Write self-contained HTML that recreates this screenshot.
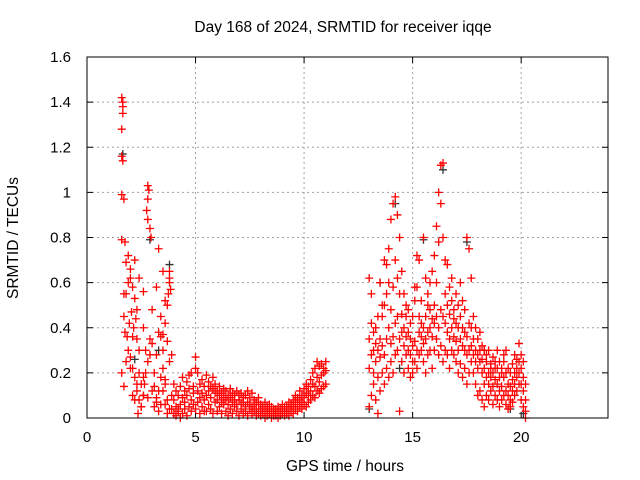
<!DOCTYPE html>
<html><head><meta charset="utf-8"><style>
html,body{margin:0;padding:0;background:#fff;}
svg{display:block;font-family:"Liberation Sans",sans-serif;}
</style></head><body>
<svg id="chart" width="640" height="480" viewBox="0 0 640 480">
<rect x="0" y="0" width="640" height="480" fill="#fff"/>
<text x="343" y="32" font-size="15.5" text-anchor="middle">Day 168 of 2024, SRMTID for receiver iqqe</text>
<text x="345" y="471" font-size="15.5" text-anchor="middle">GPS time / hours</text>
<text x="0" y="0" font-size="15.5" text-anchor="middle" transform="translate(18,238) rotate(-90)">SRMTID / TECUs</text>
<g id="grid"></g>
<g id="ticks"></g>
<g id="black-series"></g>
<g id="red-series"></g>
<rect x="87" y="57" width="521" height="361" fill="none" stroke="#000" stroke-width="1"/>
</svg>
<script>
const xTicks = [0, 5, 10, 15, 20];
const yTicks = [0, 0.2, 0.4, 0.6, 0.8, 1, 1.2, 1.4, 1.6];
const yTickLabels = ["0", "0.2", "0.4", "0.6", "0.8", "1", "1.2", "1.4", "1.6"];
const earlyPoints = [[1.6,1.42],[1.65,1.40],[1.65,1.38],[1.65,1.35],[1.6,1.28],[1.6,1.16],[1.65,1.14],[1.6,0.99],[1.7,0.97],[1.6,0.79],[1.75,0.78],[1.8,0.69],[1.9,0.72],[2.0,0.66],[1.7,0.55],[1.8,0.55],[1.9,0.60],[2.0,0.62],[2.1,0.58],[2.2,0.53],[1.7,0.45],[1.75,0.38],[1.85,0.36],[1.95,0.42],[2.05,0.47],[2.15,0.40],[2.25,0.44],[2.3,0.35],[1.6,0.2],[1.7,0.14],[1.8,0.25],[1.9,0.3],[2.0,0.27],[2.1,0.22],[2.2,0.18],[2.3,0.12],[2.4,0.2],[2.5,0.15],[2.6,0.1],[2.7,0.3],[2.8,0.25],[2.9,0.35],[3.0,0.33],[3.1,0.2],[3.2,0.28],[3.3,0.12],[3.4,0.18],[3.5,0.22],[3.6,0.15],[3.7,0.08],[3.8,0.25],[3.9,0.28],[2.8,1.03],[2.85,1.01],[2.8,0.97],[2.75,0.92],[2.8,0.88],[2.9,0.84],[2.95,0.80],[3.3,0.75],[3.5,0.65],[3.2,0.58],[3.0,0.48],[3.4,0.45],[3.6,0.52],[3.8,0.65],[3.8,0.62],[3.8,0.60],[3.85,0.57],[3.75,0.55],[3.7,0.5],[3.6,0.42],[3.5,0.37],[3.4,0.36],[2.5,0.05],[2.4,0.08],[2.35,0.02],[2.6,0.1],[2.65,0.15],[3.1,0.05],[3.2,0.09],[3.3,0.03],[3.6,0.06],[3.7,0.02],[3.9,0.1],[2.2,0.08],[2.4,0.3],[2.6,0.4],[2.7,0.2],[3.0,0.12],[3.3,0.38],[3.5,0.3],[3.7,0.34],[2.1,0.1],[2.3,0.15],[2.5,0.05],[2.9,0.28],[3.1,0.14],[3.4,0.06],[3.6,0.17],[3.9,0.04],[2.0,0.22],[2.6,0.18],[2.8,0.09],[3.2,0.07],[3.5,0.12],[3.8,0.04],[2.2,0.7],[2.4,0.62],[2.6,0.56],[2.3,0.48],[2.1,0.36]];
const midRows = [[4.0,.02,.08,.15],[4.1,.01,.05,.12],[4.2,.03,.1,.04],[4.3,0,.06,.14],[4.4,.02,.09,.18],[4.5,.04,.12,.07],[4.6,.01,.1,.16],[4.7,.05,.13,.19],[4.8,.03,.08,.2],[4.9,.06,.14,.11],[5.0,.04,.22,.27],[5.1,.07,.12,.2],[5.2,.02,.15,.09],[5.3,.05,.11,.17],[5.4,.08,.14,.03],[5.5,.03,.1,.19],[5.6,.06,.16,.12],[5.7,.04,.09,.14],[5.8,.02,.13,.18],[5.9,.07,.11,.15],[6.0,.03,.08,.12],[6.1,.05,.1,.14],[6.2,.02,.07,.11],[6.3,.06,.09,.13],[6.4,.03,.12,.08],[6.5,.01,.06,.1],[6.6,.04,.09,.13],[6.7,.02,.07,.11],[6.8,.05,.1,.08],[6.9,.03,.06,.12],[7.0,.01,.08,.1],[7.1,.04,.06,.11],[7.2,.02,.09,.07],[7.3,.03,.05,.1],[7.4,.01,.07,.12],[7.5,.04,.06,.09],[7.6,.02,.05,.11],[7.7,.03,.08,.06],[7.8,.01,.04,.07],[7.9,.02,.06,.09],[8.0,.01,.03,.06],[8.1,.02,.05,.04],[8.2,0,.03,.07],[8.3,.01,.04,.05],[8.4,.02,.03,.06],[8.5,0,.02,.05],[8.6,.01,.03,.04],[8.7,.02,.04,.01],[8.8,0,.03,.05],[8.9,.01,.02,.04],[9.0,.02,.04,.06],[9.1,.01,.03,.05],[9.2,.02,.05,.03],[9.3,.01,.04,.07],[9.4,.03,.06,.05],[9.5,.02,.05,.08],[9.6,.04,.07,.1],[9.7,.03,.06,.09],[9.8,.05,.08,.12],[9.9,.04,.1,.07],[10.0,.06,.09,.13],[10.1,.05,.11,.15],[10.2,.07,.1,.14],[10.3,.08,.12,.17],[10.4,.1,.15,.2],[10.5,.09,.14,.22],[10.6,.12,.18,.25],[10.7,.11,.16,.23],[10.8,.13,.19,.24],[10.9,.14,.2,.22],[11.0,.15,.21,.25]];
const lateRows = [[13.0,.05,.22,.35,.62],[13.1,.1,.28,.42,.55],[13.2,.15,.3,.38,.2],[13.3,.08,.25,.4,.33],[13.4,.02,.18,.3,.45],[13.5,.12,.27,.35,.6],[13.6,.2,.32,.45,.5],[13.7,.15,.28,.5,.7],[13.8,.22,.35,.55,.68],[13.9,.18,.4,.6,.75],[14.0,.25,.33,.48,.88],[14.1,.2,.36,.58,.95],[14.2,.28,.42,.7,.98],[14.3,.3,.45,.62,.9],[14.4,.03,.35,.55,.8],[14.5,.25,.38,.46,.65],[14.6,.2,.32,.4,.55],[14.7,.28,.36,.45,.5],[14.8,.22,.3,.38,.48],[14.9,.18,.28,.35,.42],[15.0,.2,.25,.32,.45],[15.1,.25,.34,.52,.58],[15.2,.22,.3,.58,.72],[15.3,.28,.38,.45,.7],[15.4,.3,.36,.42,.52],[15.5,.25,.33,.4,.8],[15.6,.2,.35,.45,.62],[15.7,.28,.38,.5,.55],[15.8,.3,.4,.48,.6],[15.9,.22,.36,.44,.65],[16.0,.3,.42,.5,.72],[16.1,.35,.45,.6,.85],[16.2,.28,.4,.78,1.0],[16.3,.32,.48,.95,1.12],[16.4,.25,.45,.8,1.13],[16.5,.3,.42,.55,.7],[16.6,.28,.38,.5,.68],[16.7,.22,.35,.46,.58],[16.8,.3,.4,.52,.62],[16.9,.28,.36,.44,.48],[17.0,.25,.34,.42,.55],[17.1,.2,.3,.4,.5],[17.2,.24,.35,.45,.6],[17.3,.18,.32,.4,.52],[17.4,.22,.3,.38,.48],[17.5,.15,.28,.36,.8],[17.6,.2,.3,.42,.75],[17.7,.25,.32,.4,.62],[17.8,.2,.28,.35,.45],[17.9,.15,.25,.3,.4],[18.0,.1,.22,.28,.35],[18.1,.12,.25,.3,.38],[18.2,.08,.2,.26,.32],[18.3,.05,.15,.22,.3],[18.4,.1,.18,.25,.28],[18.5,.08,.15,.2,.3],[18.6,.12,.18,.24,.22],[18.7,.06,.14,.2,.27],[18.8,.1,.17,.22,.25],[18.9,.08,.15,.22,.3],[19.0,.05,.12,.18,.25],[19.1,.08,.14,.2,.22],[19.2,.1,.18,.25,.28],[19.3,.06,.12,.2,.3],[19.4,.04,.1,.15,.22],[19.5,.05,.08,.14,.2],[19.6,.07,.12,.17,.24],[19.7,.1,.15,.2,.28],[19.8,.12,.18,.22,.26],[19.9,.15,.2,.25,.33],[20.0,.08,.15,.22,.28],[20.1,.05,.12,.18,.25],[20.2,0,.03,.08,.15]];
const blackPoints = [[1.65,1.17],[2.9,0.79],[3.8,0.68],[3.3,0.3],[2.2,0.26],[14.2,0.95],[15.5,0.79],[16.4,1.1],[17.5,0.78],[13.0,0.04],[14.4,0.22],[19.5,0.04],[20.1,0.02],[18.3,0.3],[13.5,0.6]];

const NS = "http://www.w3.org/2000/svg";
const L = 87, R = 608, T = 57, B = 418;
const xMax = 24, yMax = 1.6;
function xs(v){ return L + v / xMax * (R - L); }
function ys(v){ return B - v / yMax * (B - T); }
function mk(tag, attrs, parent){
  const el = document.createElementNS(NS, tag);
  for (const k in attrs) el.setAttribute(k, attrs[k]);
  parent.appendChild(el);
  return el;
}
const grid = document.getElementById('grid');
const ticks = document.getElementById('ticks');
xTicks.forEach((t) => {
  const x = xs(t);
  if (t > 0) {
    const g = mk('line', {x1:x, y1:T, x2:x, y2:B, stroke:'#a0a0a0', 'stroke-dasharray':'2,3'}, grid);
    
    
  }
  const a = mk('line', {x1:x, y1:B, x2:x, y2:B-6, stroke:'#000'}, ticks);
  
  
  const b = mk('line', {x1:x, y1:T, x2:x, y2:T+6, stroke:'#000'}, ticks);
  
  
  const lab = mk('text', {x:x, y:B+24, 'font-size':15, 'text-anchor':'middle'}, ticks);
  lab.textContent = String(t);
  
  
});
yTicks.forEach((t, i) => {
  const y = ys(t);
  if (t > 0 && t < yMax) {
    const g = mk('line', {x1:L, y1:y, x2:R, y2:y, stroke:'#a0a0a0', 'stroke-dasharray':'2,3'}, grid);
    
    
  }
  const a = mk('line', {x1:L, y1:y, x2:L+6, y2:y, stroke:'#000'}, ticks);
  
  
  const b = mk('line', {x1:R, y1:y, x2:R-6, y2:y, stroke:'#000'}, ticks);
  
  
  const lab = mk('text', {x:L-16, y:y+5, 'font-size':15, 'text-anchor':'end'}, ticks);
  lab.textContent = yTickLabels[i];
  
  
});
function plus(parent, t, v, color){
  const x = xs(t), y = ys(v);
  const p = mk('path', {d:`M${x-4},${y}H${x+4}M${x},${y-4}V${y+4}`, stroke:color, 'stroke-width':1.3, fill:'none'}, parent);
  
  
}
const blackG = document.getElementById('black-series');
const redG = document.getElementById('red-series');
blackPoints.forEach(p => plus(blackG, p[0], p[1], '#333'));
earlyPoints.forEach(p => plus(redG, p[0], p[1], '#ff0000'));
midRows.forEach(r => { for (let k = 1; k < r.length; k++) plus(redG, r[0], r[k], '#ff0000'); });
lateRows.forEach(r => { for (let k = 1; k < r.length; k++) plus(redG, r[0], r[k], '#ff0000'); });
</script>
</body></html>
